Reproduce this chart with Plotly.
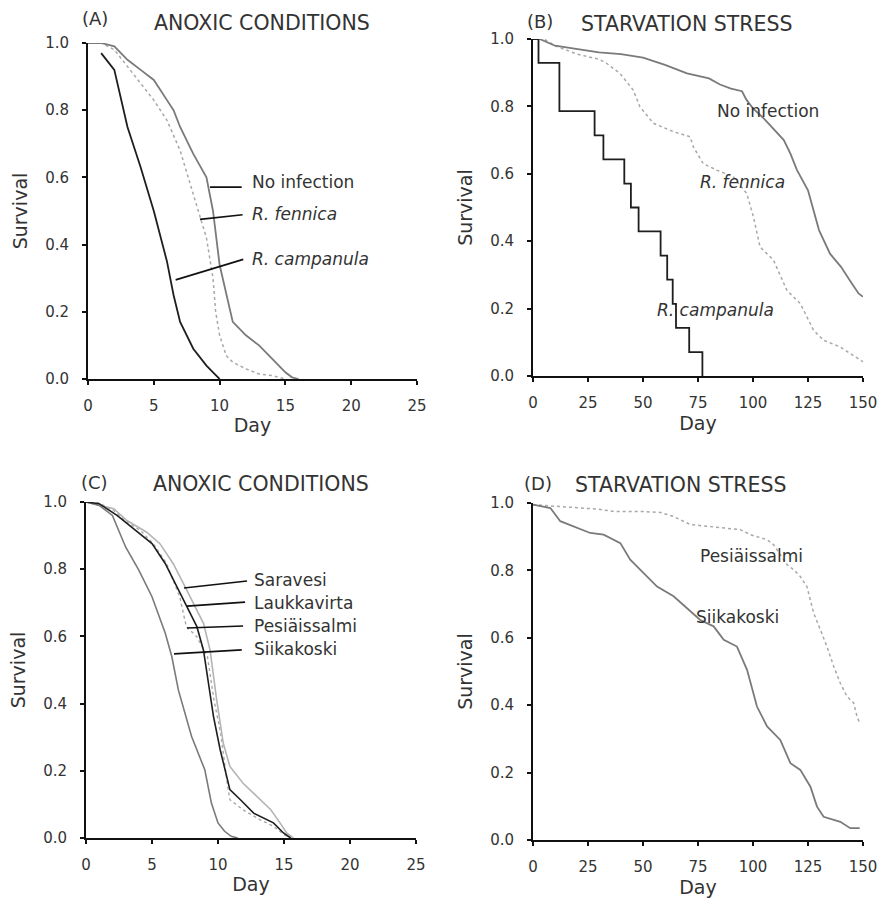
import plotly.graph_objects as go

W, H = 878, 898

# ---------------- Panel A: anoxic conditions, infection ----------------
a_noinf_day = [0, 1, 2, 3, 4, 5, 6, 6.5, 7, 8, 9, 9.5, 10, 10.5, 11, 12, 13, 14, 15, 15.5, 16]
a_noinf_s = [1.0, 1.0, 0.99, 0.95, 0.92, 0.89, 0.83, 0.80, 0.75, 0.67, 0.60, 0.50, 0.34, 0.25, 0.17, 0.13, 0.10, 0.06, 0.02, 0.005, 0.0]
a_fen_day = [0, 1, 2, 3, 4, 5, 6, 7, 8, 9, 9.5, 9.7, 10, 10.5, 11, 12, 13, 14, 15]
a_fen_s = [1.0, 1.0, 0.98, 0.93, 0.88, 0.83, 0.77, 0.68, 0.55, 0.42, 0.30, 0.20, 0.13, 0.07, 0.05, 0.03, 0.015, 0.01, 0.0]
a_camp_day = [1, 2, 3, 4, 5, 6, 6.5, 7, 8, 9, 9.5, 10]
a_camp_s = [0.97, 0.92, 0.75, 0.63, 0.50, 0.35, 0.25, 0.17, 0.09, 0.04, 0.02, 0.0]

# ---------------- Panel B: starvation stress, infection ----------------
b_noinf_day = [0, 3, 10, 20, 30, 40, 50, 60, 70, 80, 85, 90, 95, 97, 100, 105, 110, 114, 117, 120, 125, 130, 135, 140, 145, 148, 150]
b_noinf_s = [1.0, 1.0, 0.98, 0.97, 0.96, 0.955, 0.945, 0.923, 0.898, 0.883, 0.865, 0.853, 0.845, 0.82, 0.794, 0.764, 0.73, 0.70, 0.66, 0.611, 0.551, 0.433, 0.363, 0.324, 0.274, 0.245, 0.235]
b_fen_day = [0, 5, 10, 20, 30, 33.4, 39.5, 45.5, 48.6, 54.7, 63.8, 71.4, 72.9, 77.4, 83.5, 91.1, 97.2, 100.2, 103.2, 109.3, 115.4, 118.4, 121.5, 127.5, 132.1, 139.7, 150]
b_fen_s = [1.0, 1.0, 0.98, 0.955, 0.94, 0.928, 0.898, 0.849, 0.799, 0.75, 0.725, 0.71, 0.68, 0.63, 0.611, 0.591, 0.541, 0.472, 0.383, 0.344, 0.254, 0.235, 0.215, 0.136, 0.106, 0.086, 0.042]
b_camp_day = [0, 2.5, 12, 28, 32, 41.5, 44.5, 48, 58, 61, 63.5, 65, 71, 77]
b_camp_s = [1.0, 0.929, 0.786, 0.714, 0.643, 0.571, 0.5, 0.429, 0.357, 0.286, 0.214, 0.143, 0.071, 0.0]

# ---------------- Panel C: anoxic conditions, populations ----------------
c_sar_day = [0, 2.1, 3.1, 4.6, 5.6, 6.6, 7.5, 8.4, 8.9, 9.4, 9.9, 10.4, 10.9, 11.9, 12.9, 14.0, 14.7, 15.2, 15.7]
c_sar_s = [1.0, 0.98, 0.945, 0.91, 0.876, 0.817, 0.748, 0.678, 0.639, 0.559, 0.411, 0.282, 0.213, 0.163, 0.124, 0.084, 0.045, 0.015, 0.0]
c_lau_day = [0, 1, 2.35, 3.1, 4.1, 5.0, 6.0, 6.9, 7.64, 8.4, 8.9, 9.28, 9.66, 10.17, 10.9, 11.7, 12.7, 14.2, 14.96, 15.5]
c_lau_s = [1.0, 0.995, 0.96, 0.936, 0.906, 0.876, 0.817, 0.748, 0.688, 0.629, 0.559, 0.46, 0.361, 0.262, 0.144, 0.114, 0.074, 0.045, 0.015, 0.0]
c_pes_day = [0.8, 2.1, 3.1, 4.1, 5.1, 6.1, 7.1, 7.6, 8.4, 9.2, 9.7, 10.2, 10.7, 10.9, 11.9, 13.2, 14.2, 15.0, 15.5]
c_pes_s = [1.0, 0.975, 0.94, 0.916, 0.876, 0.817, 0.718, 0.629, 0.599, 0.54, 0.41, 0.312, 0.163, 0.114, 0.084, 0.054, 0.035, 0.01, 0.0]
c_sii_day = [0, 1, 2, 3, 4, 5, 6, 6.5, 7, 8, 9, 9.5, 10, 10.5, 11, 11.5]
c_sii_s = [1.0, 0.99, 0.96, 0.866, 0.797, 0.718, 0.61, 0.54, 0.44, 0.302, 0.203, 0.104, 0.045, 0.02, 0.005, 0.0]

# ---------------- Panel D: starvation stress, populations ----------------
d_pes_day = [0, 10.9, 29, 36.7, 48.8, 57.9, 63.9, 71.5, 79, 86.7, 94.2, 98.8, 106.4, 109.4, 115.5, 118.5, 121.5, 124.5, 127.6, 130.6, 133.6, 136.7, 139.7, 142.7, 145.8, 147.3, 148.5]
d_pes_s = [0.995, 0.99, 0.982, 0.975, 0.975, 0.972, 0.96, 0.936, 0.931, 0.926, 0.921, 0.906, 0.891, 0.876, 0.817, 0.802, 0.782, 0.752, 0.673, 0.624, 0.574, 0.515, 0.465, 0.426, 0.406, 0.366, 0.347]
d_sii_day = [0, 7.9, 12.4, 18.5, 26, 32.1, 39.7, 44.2, 48.8, 56.4, 63.9, 70, 76, 82.1, 86.7, 92.7, 97.3, 101.8, 106.4, 112.4, 117, 121.5, 126.1, 129.1, 132.1, 139.7, 144.2, 148.5]
d_sii_s = [0.995, 0.985, 0.946, 0.931, 0.911, 0.906, 0.881, 0.832, 0.802, 0.752, 0.723, 0.688, 0.653, 0.634, 0.594, 0.574, 0.505, 0.396, 0.337, 0.297, 0.228, 0.208, 0.158, 0.099, 0.069, 0.054, 0.035, 0.035]

# tick labels
y_ticks = [0.0, 0.2, 0.4, 0.6, 0.8, 1.0]
y_ticklabels = ["0.0", "0.2", "0.4", "0.6", "0.8", "1.0"]
anox_ticks = [0, 5, 10, 15, 20, 25]
starv_ticks = [0, 25, 50, 75, 100, 125, 150]

FONT = "DejaVu Sans"
TXT = "#333333"
C_BLACK = "#1e1e1e"
C_MID = "#7a7a7a"
C_LIGHT = "#a8a8a8"

# panel boxes in pixels: (x0, x1, ytop, ybottom)
boxes = {
    1: (88, 417, 43, 379),
    2: (533, 863, 39, 376),
    3: (86, 416, 502, 838),
    4: (533, 863, 503, 840),
}

fig = go.Figure()

def add(xs, ys, n, color, width=1.6, dash="solid", shape="linear"):
    suf = "" if n == 1 else str(n)
    fig.add_trace(go.Scatter(x=xs, y=ys, mode="lines", xaxis="x" + suf, yaxis="y" + suf,
                             line=dict(color=color, width=width, dash=dash, shape=shape),
                             showlegend=False, hoverinfo="skip", cliponaxis=False))

add(a_fen_day, a_fen_s, 1, C_LIGHT, 1.5, "dot")
add(a_noinf_day, a_noinf_s, 1, C_MID, 1.8)
add(a_camp_day, a_camp_s, 1, C_BLACK, 1.8)

add(b_fen_day, b_fen_s, 2, C_LIGHT, 1.5, "dot")
add(b_noinf_day, b_noinf_s, 2, C_MID, 1.8)
add(b_camp_day, b_camp_s, 2, C_BLACK, 1.8, shape="hv")

add(c_pes_day, c_pes_s, 3, C_LIGHT, 1.4, "dot")
add(c_sar_day, c_sar_s, 3, "#b4b4b4", 1.6)
add(c_sii_day, c_sii_s, 3, C_MID, 1.6)
add(c_lau_day, c_lau_s, 3, C_BLACK, 1.6)

add(d_pes_day, d_pes_s, 4, C_LIGHT, 1.5, "dot")
add(d_sii_day, d_sii_s, 4, C_MID, 1.8)

layout = dict(
    width=W, height=H, margin=dict(l=0, r=0, t=0, b=0, autoexpand=False),
    paper_bgcolor="white", plot_bgcolor="white",
    font=dict(family=FONT, color=TXT, size=15),
)

for n, (x0, x1, yt, yb) in boxes.items():
    suf = "" if n == 1 else str(n)
    xr = [0, 25] if n in (1, 3) else [0, 150]
    xt = anox_ticks if n in (1, 3) else starv_ticks
    layout["xaxis" + suf] = dict(
        domain=[x0 / W, x1 / W], anchor="y" + suf, range=xr, tickvals=xt,
        showgrid=False, zeroline=False, showline=True, linecolor="#111", linewidth=2,
        ticks="outside", ticklen=4, tickcolor="#111", tickwidth=1.5, automargin=False,
        ticklabelstandoff=8, tickfont=dict(size=15, family=FONT, color=TXT),
        title=dict(text="Day", font=dict(size=19, family=FONT, color=TXT), standoff=5),
    )
    layout["yaxis" + suf] = dict(
        domain=[1 - yb / H, 1 - yt / H], anchor="x" + suf, range=[0, 1.0],
        tickvals=y_ticks, ticktext=y_ticklabels,
        showgrid=False, zeroline=False, showline=True, linecolor="#111", linewidth=2,
        ticks="outside", ticklen=4, tickcolor="#111", tickwidth=1.5, automargin=False,
        ticklabelstandoff=10, tickfont=dict(size=15, family=FONT, color=TXT),
        title=dict(text="Survival", font=dict(size=19, family=FONT, color=TXT), standoff=12),
    )

fig.update_layout(**layout)

annotations = []
def ptxt(x, y, text, size=19, xanchor="center"):
    annotations.append(dict(x=x / W, y=1 - y / H, xref="paper", yref="paper", text=text,
                            showarrow=False, xanchor=xanchor, yanchor="middle",
                            font=dict(size=size, family=FONT, color=TXT)))

ptxt(95, 19, "(A)", 18)
ptxt(262, 23, "ANOXIC CONDITIONS", 20.5)
ptxt(540, 21, "(B)", 18)
ptxt(687, 24, "STARVATION STRESS", 20.5)
ptxt(94, 482, "(C)", 18)
ptxt(261, 484, "ANOXIC CONDITIONS", 20.5)
ptxt(538, 483, "(D)", 18)
ptxt(681, 485, "STARVATION STRESS", 20.5)

def dtxt(n, x, y, text, xanchor="left"):
    suf = "" if n == 1 else str(n)
    annotations.append(dict(x=x, y=y, xref="x" + suf, yref="y" + suf, text=text,
                            showarrow=False, xanchor=xanchor, yanchor="middle",
                            font=dict(size=17, family=FONT, color=TXT)))

# Panel A labels
dtxt(1, 12.3, 0.585, "No infection")
dtxt(1, 12.3, 0.492, "<i>R. fennica</i>")
dtxt(1, 12.3, 0.358, "<i>R. campanula</i>")
# Panel B labels
dtxt(2, 107, 0.785, "No infection", "center")
dtxt(2, 95, 0.575, "<i>R. fennica</i>", "center")
dtxt(2, 83, 0.195, "<i>R. campanula</i>", "center")
# Panel C labels
dtxt(3, 12.6, 0.767, "Saravesi")
dtxt(3, 12.6, 0.698, "Laukkavirta")
dtxt(3, 12.6, 0.630, "Pesiäissalmi")
dtxt(3, 12.6, 0.563, "Siikakoski")
# Panel D labels
dtxt(4, 99.5, 0.843, "Pesiäissalmi", "center")
dtxt(4, 93, 0.662, "Siikakoski", "center")

fig.update_layout(annotations=annotations)

# pointer lines (data coordinates)
pointers = [
    (1, 9.27, 0.571, 11.68, 0.571),
    (1, 8.51, 0.475, 11.75, 0.489),
    (1, 6.66, 0.295, 11.80, 0.356),
    (3, 7.42, 0.744, 12.2, 0.765),
    (3, 7.65, 0.690, 12.05, 0.702),
    (3, 7.65, 0.625, 11.9, 0.631),
    (3, 6.67, 0.548, 11.8, 0.560),
]
for n, x0, y0, x1, y1 in pointers:
    suf = "" if n == 1 else str(n)
    fig.add_shape(type="line", x0=x0, y0=y0, x1=x1, y1=y1, xref="x" + suf, yref="y" + suf,
                  line=dict(color="#111", width=1.6))

fig.write_html("out.html", config={"displayModeBar": False},
               post_script="document.body.style.margin='0';document.body.style.overflow='hidden';")
